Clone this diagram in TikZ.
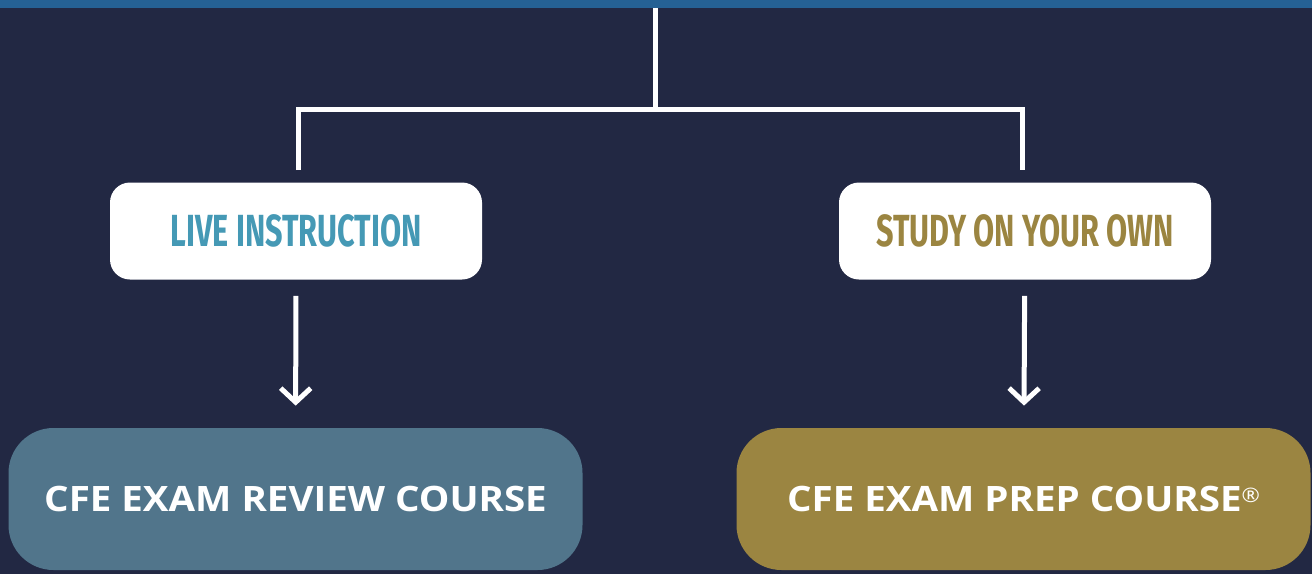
\documentclass[tikz,border=0pt]{standalone}
\usepackage{fontspec}
\setmainfont{Open Sans}
\newfontfamily\condfont[FakeStretch=0.68]{Fira Sans}
\newfontfamily\coursefont[FakeStretch=1.1]{Open Sans}
\usetikzlibrary{arrows.meta}
\definecolor{navy}{HTML}{222843}
\definecolor{strip}{HTML}{256194}
\definecolor{teal}{HTML}{4599B5}
\definecolor{gold}{HTML}{9B8541}
\definecolor{slate}{HTML}{51758B}
\begin{document}
\begin{tikzpicture}[x=1pt, y=-1pt, thick,
	wire/.style = {draw=white, line width=5pt},
	arr/.style = {draw=white, line width=5pt, -{Straight Barb[length=14pt, width=30pt]}, shorten <=16pt, shorten >=22pt},
	track/.style = {draw=none, fill=white, rounded corners=20pt, minimum width=372pt, minimum height=97pt, font=\condfont\bfseries\fontsize{45}{45}\selectfont},
	course/.style = {draw=none, rounded corners=45pt, minimum width=574pt, minimum height=142pt, text=white, font=\coursefont\bfseries\fontsize{35}{35}\selectfont}]
	\useasboundingbox (0,0) rectangle (1312,574);
	\fill[navy] (0,0) rectangle (1312,574);
	\fill[strip] (0,0) rectangle (1312,8);
	
	\coordinate (top) at (655,8);
	\coordinate (split) at (655,109);
	\coordinate (lend) at (298,170);
	\coordinate (rend) at (1022,170);
	
	\node[track, text=teal] (live) at (296,231) {LIVE INSTRUCTION};
	\node[track, text=gold] (study) at (1025,231) {STUDY ON YOUR OWN};
	
	\node[course, fill=slate] (review) at (295.5,499) {CFE EXAM REVIEW COURSE};
	\node[course, fill=gold] (prep) at (1023.5,499) {CFE EXAM PREP COURSE\raisebox{9pt}{\fontsize{20}{20}\selectfont\mdseries ®}};
	
	\draw[wire] (top) -- (split);
	\draw[wire] (lend) |- (split) -| (rend);
	\draw[arr] (live) -- (review);
	\draw[arr] (study) -- (prep);
	
\end{tikzpicture}
\end{document}
